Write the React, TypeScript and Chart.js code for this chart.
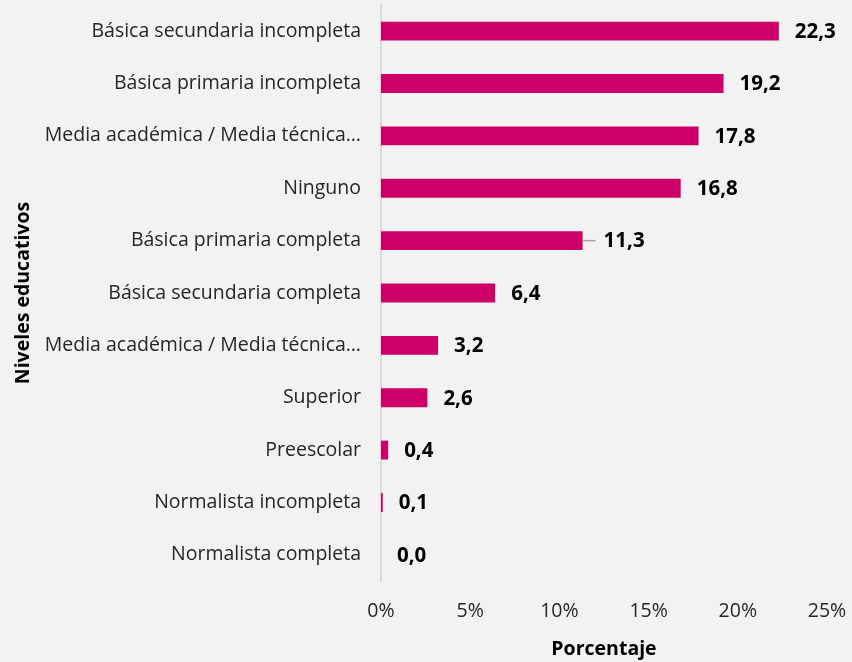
import React, { useEffect, useRef } from "react";
import { Chart, registerables } from "chart.js";

Chart.register(...registerables);

const categories = [
  "Básica secundaria incompleta",
  "Básica primaria incompleta",
  "Media académica / Media técnica…",
  "Ninguno",
  "Básica primaria completa",
  "Básica secundaria completa",
  "Media académica / Media técnica…",
  "Superior",
  "Preescolar",
  "Normalista incompleta",
  "Normalista completa",
];
const values = [22.3, 19.2, 17.8, 16.8, 11.3, 6.4, 3.2, 2.6, 0.4, 0.1, 0.0];
const xTicks = [0, 5, 10, 15, 20, 25];
// label that was dragged away from its bar in the original, with a leader line
const leaderLineIndex = 4;

const FONT = "'Open Sans', 'Noto Sans', sans-serif";
const TEXT = "#262626";

const valueLabels = {
  id: "valueLabels",
  afterDatasetsDraw(chart: any) {
    const ctx = chart.ctx;
    const meta = chart.getDatasetMeta(0);
    ctx.save();
    ctx.font = `bold 20.5px ${FONT}`;
    ctx.textAlign = "left";
    ctx.textBaseline = "middle";
    meta.data.forEach((bar: any, i: number) => {
      const v = values[i];
      let offset = 16;
      if (i === leaderLineIndex) {
        offset = 21;
        ctx.strokeStyle = "#a6a6a6";
        ctx.lineWidth = 1.5;
        ctx.beginPath();
        ctx.moveTo(bar.x, bar.y);
        ctx.lineTo(bar.x + 13, bar.y);
        ctx.stroke();
      }
      ctx.fillStyle = "#000000";
      ctx.fillText(v.toFixed(1).replace(".", ","), bar.x + offset, bar.y + 1);
    });
    ctx.restore();
  },
};

export default function App() {
  const ref = useRef<HTMLCanvasElement>(null);
  useEffect(() => {
    document.body.style.margin = "0";
    const chart = new Chart(ref.current!, {
      type: "bar",
      data: {
        labels: categories,
        datasets: [
          {
            data: values,
            backgroundColor: "#cc0066",
            borderWidth: 0,
            barPercentage: 0.9,
            categoryPercentage: 0.4,
          },
        ],
      },
      options: {
        indexAxis: "y",
        animation: false,
        responsive: false,
        maintainAspectRatio: false,
        layout: { padding: { left: 8, right: 25, top: 5, bottom: 0 } },
        plugins: { legend: { display: false }, tooltip: { enabled: false } },
        scales: {
          x: {
            min: 0,
            max: 25,
            afterBuildTicks: (scale: any) => {
              scale.ticks = xTicks.map((v) => ({ value: v }));
            },
            afterFit: (scale: any) => {
              scale.height = 81;
              scale.paddingLeft = 0;
              scale.paddingRight = 0;
            },
            grid: { display: false, drawTicks: false },
            border: { display: false },
            ticks: {
              padding: 19,
              color: TEXT,
              font: { family: FONT, size: 19.5 },
              callback: (v: any) => `${v}%`,
            },
            title: {
              display: true,
              text: "Porcentaje",
              color: "#000000",
              padding: { top: 4, bottom: 1 },
              font: { family: FONT, size: 19.5, weight: "bold" },
            },
          },
          y: {
            afterFit: (scale: any) => {
              scale.width = 373;
              scale.paddingTop = 0;
              scale.paddingBottom = 0;
            },
            grid: { display: false, drawTicks: false },
            border: { display: true, color: "#d9d9d9", width: 2 },
            ticks: {
              padding: 20,
              color: TEXT,
              font: { family: FONT, size: 19.5 },
            },
            title: {
              display: true,
              text: "Niveles educativos",
              color: "#000000",
              font: { family: FONT, size: 19.5, weight: "bold" },
            },
          },
        },
      },
      plugins: [valueLabels],
    });
    return () => chart.destroy();
  }, []);
  return (
    <div
      style={{
        position: "fixed",
        left: 0,
        top: 0,
        width: 852,
        height: 662,
        background: "#f2f2f2",
      }}
    >
      <canvas ref={ref} width={852} height={662} style={{ display: "block" }} />
    </div>
  );
}
